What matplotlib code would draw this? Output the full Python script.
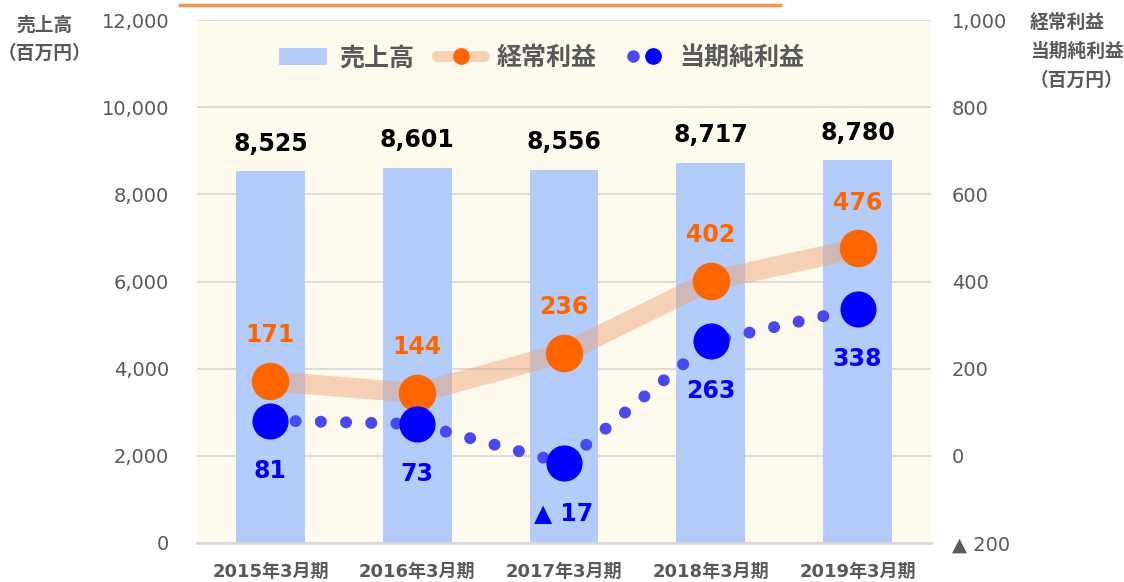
import matplotlib
matplotlib.use('Agg')
import matplotlib.pyplot as plt
from matplotlib.lines import Line2D
from matplotlib.patches import Patch
from matplotlib.ticker import FuncFormatter
from matplotlib.legend_handler import HandlerTuple

categories = ['2015年3月期', '2016年3月期', '2017年3月期', '2018年3月期', '2019年3月期']
sales = [8525, 8601, 8556, 8717, 8780]
ordinary_profit = [171, 144, 236, 402, 476]
net_profit = [81, 73, -17, 263, 338]
left_ticks = [0, 2000, 4000, 6000, 8000, 10000, 12000]
right_ticks = [-200, 0, 200, 400, 600, 800, 1000]
series_names = ['売上高', '経常利益', '当期純利益']

GREY = '#595959'
BAR = '#b4ccfa'
ORANGE = '#ff6600'
PEACH = '#f0a070'
BLUE = '#0000ff'
DOTBLUE = '#4a48f0'
JP = ['DejaVu Sans', 'Noto Sans CJK JP']
JPONLY = ['Noto Sans CJK JP', 'DejaVu Sans']
plt.rcParams['font.family'] = JP

W, H = 1124, 582
fig = plt.figure(figsize=(W / 100, H / 100), dpi=100)
ax = fig.add_axes([197 / W, 39 / H, 734 / W, 523 / H])
ax.set_facecolor('#fefaee')
x = list(range(len(categories)))

ax.bar(x, sales, width=0.47, color=BAR, zorder=2)
ax.set_xlim(-0.5, len(categories) - 0.5)
ax.set_ylim(left_ticks[0], left_ticks[-1])
ax.set_yticks(left_ticks)
ax.yaxis.set_major_formatter(FuncFormatter(lambda v, p: f'{int(v):,}'))
ax.grid(axis='y', color='#d9d9d9', lw=1.3, zorder=0)
ax.set_axisbelow(True)
for s in ['left', 'right', 'top']:
    ax.spines[s].set_visible(False)
ax.spines['bottom'].set_color('#d9d9d9')
ax.spines['bottom'].set_linewidth(2)
ax.tick_params(axis='y', length=0, pad=20, labelsize=14, labelcolor=GREY)
ax.tick_params(axis='x', length=0, pad=14, labelsize=13, labelcolor=GREY)
ax.set_xticks(x)
ax.set_xticklabels(categories, fontweight='bold')

for i, v in enumerate(sales):
    ax.annotate(f'{v:,}', (i, v), xytext=(0, 20), textcoords='offset points',
                ha='center', va='center', fontsize=17, fontweight='bold', color='black', zorder=10)

ax2 = ax.twinx()
ax2.set_ylim(right_ticks[0], right_ticks[-1])
ax2.set_yticks(right_ticks)
ax2.yaxis.set_major_formatter(FuncFormatter(lambda v, p: f'▲ {abs(int(v)):,}' if v < 0 else f'{int(v):,}'))
for s in ['left', 'right', 'top', 'bottom']:
    ax2.spines[s].set_visible(False)
ax2.tick_params(axis='y', length=0, pad=15, labelsize=14, labelcolor=GREY)

ax2.plot(x, ordinary_profit, color=PEACH, alpha=0.45, lw=14.4, solid_capstyle='butt',
         solid_joinstyle='round', zorder=2)
ax2.plot(x, net_profit, color=DOTBLUE, lw=8.6, linestyle=(0, (0.01, 2.1)),
         dash_capstyle='round', zorder=3)
ax2.plot(x, ordinary_profit, 'o', ms=26, color=ORANGE, zorder=4)
ax2.plot(x, net_profit, 'o', ms=25, color=BLUE, zorder=5)

for i, v in enumerate(ordinary_profit):
    ax2.annotate(f'{v:,}', (i, v), xytext=(0, 33), textcoords='offset points',
                 ha='center', va='center', fontsize=17, fontweight='bold', color=ORANGE, zorder=10)
for i, v in enumerate(net_profit):
    t = f'▲ {abs(v):,}' if v < 0 else f'{v:,}'
    ax2.annotate(t, (i, v), xytext=(0, -36), textcoords='offset points',
                 ha='center', va='center', fontsize=17, fontweight='bold', color=BLUE, zorder=10)

h_bar = Patch(facecolor=BAR, edgecolor='none')
h_ord = Line2D([], [], color='#f7d2b5', lw=8, solid_capstyle='round', marker='o', ms=11,
               markerfacecolor=ORANGE, markeredgecolor=ORANGE)
h_net = (Line2D([], [], ls='', marker='o', ms=8, color=DOTBLUE),
         Line2D([], [], ls='', marker='o', ms=11, color=BLUE))
leg = ax2.legend([h_bar, h_ord, h_net], series_names, ncol=3, loc='center',
                 bbox_to_anchor=(0.47, 0.927), frameon=False,
                 prop=dict(family=JPONLY, weight='bold', size=18), labelcolor=GREY,
                 handlelength=1.9, handleheight=0.7, handletextpad=0.5, columnspacing=0.9,
                 handler_map={tuple: HandlerTuple(ndivide=None, pad=-0.3)})
leg.set_zorder(20)

fig.add_artist(Line2D([180 / W, 780 / W], [1 - 4.5 / H] * 2, transform=fig.transFigure,
                      color='#f79646', lw=2.5))

tkw = dict(fontsize=13.5, fontweight='bold', color=GREY, family=JPONLY)
fig.text(45 / W, 1 - 25 / H, '売上高', ha='center', va='center', **tkw)
fig.text(45 / W, 1 - 53 / H, '（百万円）', ha='center', va='center', **tkw)
fig.text(1030 / W, 1 - 22 / H, '経常利益', ha='left', va='center', **tkw)
fig.text(1030 / W, 1 - 51 / H, '当期純利益', ha='left', va='center', **tkw)
fig.text(1030 / W, 1 - 80 / H, '（百万円）', ha='left', va='center', **tkw)

fig.savefig('out.png', dpi=100)
